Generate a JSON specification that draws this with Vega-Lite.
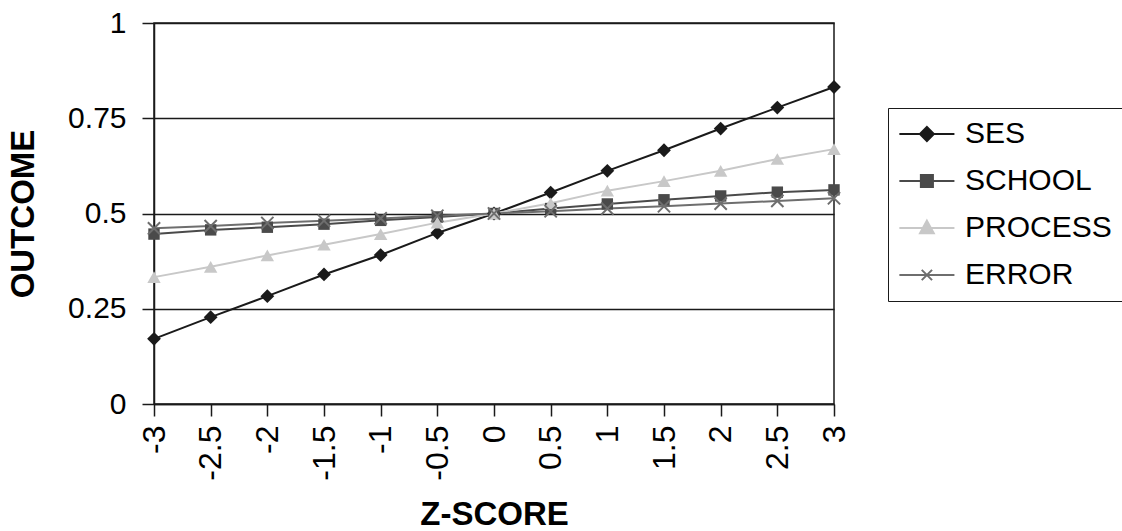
{
  "$schema": "https://vega.github.io/schema/vega-lite/v6.json",
  "width": 680,
  "height": 381,
  "autosize": {"type": "none"},
  "padding": {"left": 154, "top": 23, "right": 288, "bottom": 127},
  "background": "white",
  "config": {
    "font": "Liberation Sans",
    "view": {"stroke": "#1a1a1a", "strokeWidth": 1.5},
    "axis": {"labelFont": "Liberation Sans", "titleFont": "Liberation Sans", "labelColor": "black", "titleColor": "black", "domainColor": "#1a1a1a", "domainWidth": 1.5, "tickColor": "#1a1a1a", "tickWidth": 1.5, "tickSize": 12, "gridColor": "#1a1a1a", "gridWidth": 1.5, "gridOpacity": 1}
  },
  "data": {
    "values": [
      {"z": -3, "series": "SES", "value": 0.171},
      {"z": -2.5, "series": "SES", "value": 0.228},
      {"z": -2, "series": "SES", "value": 0.283},
      {"z": -1.5, "series": "SES", "value": 0.340},
      {"z": -1, "series": "SES", "value": 0.391},
      {"z": -0.5, "series": "SES", "value": 0.449},
      {"z": 0, "series": "SES", "value": 0.5},
      {"z": 0.5, "series": "SES", "value": 0.555},
      {"z": 1, "series": "SES", "value": 0.612},
      {"z": 1.5, "series": "SES", "value": 0.666},
      {"z": 2, "series": "SES", "value": 0.723},
      {"z": 2.5, "series": "SES", "value": 0.778},
      {"z": 3, "series": "SES", "value": 0.832},
      {"z": -3, "series": "SCHOOL", "value": 0.446},
      {"z": -2.5, "series": "SCHOOL", "value": 0.457},
      {"z": -2, "series": "SCHOOL", "value": 0.464},
      {"z": -1.5, "series": "SCHOOL", "value": 0.472},
      {"z": -1, "series": "SCHOOL", "value": 0.482},
      {"z": -0.5, "series": "SCHOOL", "value": 0.491},
      {"z": 0, "series": "SCHOOL", "value": 0.5},
      {"z": 0.5, "series": "SCHOOL", "value": 0.513},
      {"z": 1, "series": "SCHOOL", "value": 0.525},
      {"z": 1.5, "series": "SCHOOL", "value": 0.536},
      {"z": 2, "series": "SCHOOL", "value": 0.546},
      {"z": 2.5, "series": "SCHOOL", "value": 0.556},
      {"z": 3, "series": "SCHOOL", "value": 0.562},
      {"z": -3, "series": "PROCESS", "value": 0.333},
      {"z": -2.5, "series": "PROCESS", "value": 0.360},
      {"z": -2, "series": "PROCESS", "value": 0.390},
      {"z": -1.5, "series": "PROCESS", "value": 0.418},
      {"z": -1, "series": "PROCESS", "value": 0.446},
      {"z": -0.5, "series": "PROCESS", "value": 0.476},
      {"z": 0, "series": "PROCESS", "value": 0.5},
      {"z": 0.5, "series": "PROCESS", "value": 0.527},
      {"z": 1, "series": "PROCESS", "value": 0.560},
      {"z": 1.5, "series": "PROCESS", "value": 0.585},
      {"z": 2, "series": "PROCESS", "value": 0.612},
      {"z": 2.5, "series": "PROCESS", "value": 0.643},
      {"z": 3, "series": "PROCESS", "value": 0.669},
      {"z": -3, "series": "ERROR", "value": 0.461},
      {"z": -2.5, "series": "ERROR", "value": 0.467},
      {"z": -2, "series": "ERROR", "value": 0.475},
      {"z": -1.5, "series": "ERROR", "value": 0.481},
      {"z": -1, "series": "ERROR", "value": 0.487},
      {"z": -0.5, "series": "ERROR", "value": 0.494},
      {"z": 0, "series": "ERROR", "value": 0.5},
      {"z": 0.5, "series": "ERROR", "value": 0.506},
      {"z": 1, "series": "ERROR", "value": 0.513},
      {"z": 1.5, "series": "ERROR", "value": 0.519},
      {"z": 2, "series": "ERROR", "value": 0.526},
      {"z": 2.5, "series": "ERROR", "value": 0.533},
      {"z": 3, "series": "ERROR", "value": 0.540}
    ]
  },
  "encoding": {
    "x": {
      "field": "z", "type": "quantitative",
      "scale": {"domain": [-3, 3], "nice": false, "zero": false},
      "axis": {
        "title": "Z-SCORE", "titleFontSize": 33, "titleFontWeight": "bold", "titlePadding": 18,
        "values": [-3, -2.5, -2, -1.5, -1, -0.5, 0, 0.5, 1, 1.5, 2, 2.5, 3],
        "labelExpr": "'' + datum.value", "labelAngle": -90, "labelFontSize": 32, "labelPadding": 9,
        "grid": false, "labelBound": false, "labelOverlap": false, "labelFlush": false
      }
    },
    "y": {
      "field": "value", "type": "quantitative",
      "scale": {"domain": [0, 1], "nice": false},
      "axis": {
        "title": "OUTCOME", "titleFontSize": 33, "titleFontWeight": "bold", "titlePadding": 27,
        "values": [0, 0.25, 0.5, 0.75, 1], "labelExpr": "'' + datum.value",
        "labelFontSize": 30, "labelPadding": 16, "grid": true, "labelFlush": false
      }
    },
    "color": {
      "field": "series", "type": "nominal",
      "sort": ["SES", "SCHOOL", "PROCESS", "ERROR"],
      "scale": {"domain": ["SES", "SCHOOL", "PROCESS", "ERROR"], "range": ["#1a1a1a", "#4a4a4a", "#c8c8c8", "#6e6e6e"]},
      "legend": {
        "title": null, "orient": "none", "legendX": 734, "legendY": 85,
        "labelFontSize": 30, "labelColor": "black", "labelFont": "Liberation Sans",
        "symbolSize": 296, "labelOffset": 36, "rowPadding": 17,
        "strokeColor": "#1a1a1a", "padding": 11,
        "encode": {
          "symbols": {
            "update": {
              "shape": {"signal": "datum.value === 'SES' ? 'M-1.7,0L4.7,0M1.5,-0.81L2.31,0L1.5,0.81L0.69,0Z' : datum.value === 'SCHOOL' ? 'M-1.7,0L4.7,0M0.8,-0.7L2.2,-0.7L2.2,0.7L0.8,0.7Z' : datum.value === 'PROCESS' ? 'M-1.7,0L4.7,0M1.5,-0.85L2.3,0.6L0.7,0.6Z' : 'M-1.7,0L4.7,0M0.9,-0.6L2.1,0.6M2.1,-0.6L0.9,0.6'"},
              "size": {"value": 296},
              "fill": {"signal": "scale('color', datum.value)"},
              "stroke": {"signal": "scale('color', datum.value)"},
              "strokeWidth": {"value": 2},
              "opacity": {"value": 1}
            }
          }
        }
      }
    }
  },
  "layer": [
    {
      "mark": {"type": "line", "strokeWidth": 2},
      "encoding": {"detail": {"field": "series"}}
    },
    {
      "transform": [{"filter": "datum.series === 'SES'"}],
      "mark": {"type": "point", "filled": true, "opacity": 1, "shape": "diamond", "size": 190, "strokeWidth": 1}
    },
    {
      "transform": [{"filter": "datum.series === 'SCHOOL'"}],
      "mark": {"type": "point", "filled": true, "opacity": 1, "shape": "square", "size": 130, "strokeWidth": 1}
    },
    {
      "transform": [{"filter": "datum.series === 'PROCESS'"}],
      "mark": {"type": "point", "filled": true, "opacity": 1, "shape": "triangle-up", "size": 180, "strokeWidth": 1}
    },
    {
      "transform": [{"filter": "datum.series === 'ERROR'"}],
      "mark": {"type": "point", "filled": false, "opacity": 1, "shape": "M-1,-1L1,1M1,-1L-1,1", "size": 150, "strokeWidth": 2}
    }
  ]
}
